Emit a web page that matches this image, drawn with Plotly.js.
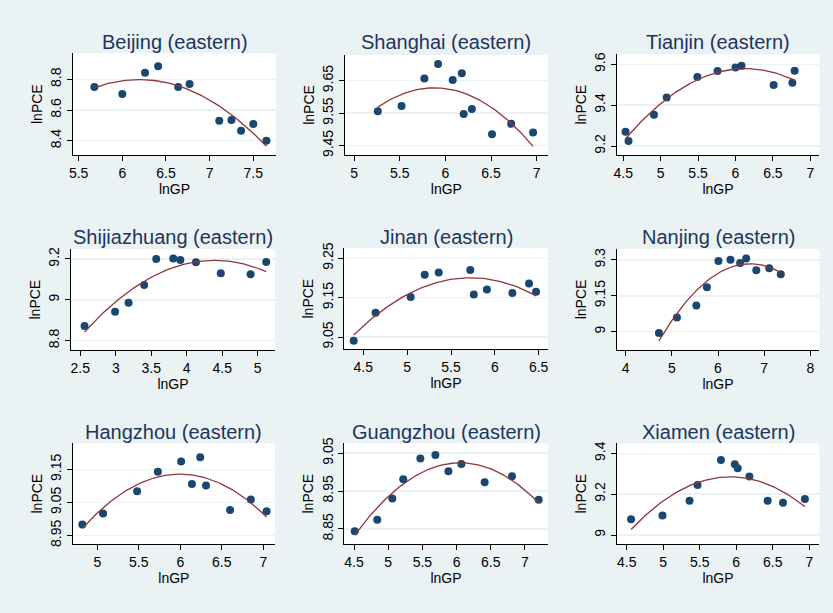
<!DOCTYPE html>
<html>
<head>
<meta charset="utf-8">
<script src="https://cdn.plot.ly/plotly-3.0.1.min.js"></script>
<style>
html,body{margin:0;padding:0;background:#eaf2f3;}
#chart{width:833px;height:613px;}
</style>
</head>
<body>
<div id="chart"></div>
<script>
// ---------- DATA ----------
const cities = ['Beijing (eastern)', 'Shanghai (eastern)', 'Tianjin (eastern)',
  'Shijiazhuang (eastern)', 'Jinan (eastern)', 'Nanjing (eastern)',
  'Hangzhou (eastern)', 'Guangzhou (eastern)', 'Xiamen (eastern)'];

const lnGP_Beijing  = [5.68, 6.00, 6.26, 6.41, 6.64, 6.77, 7.11, 7.25, 7.36, 7.50, 7.65];
const lnPCE_Beijing = [8.750, 8.704, 8.843, 8.885, 8.750, 8.770, 8.530, 8.535, 8.465, 8.509, 8.400];

const lnGP_Shanghai  = [5.26, 5.52, 5.77, 5.92, 6.08, 6.18, 6.20, 6.29, 6.51, 6.72, 6.96];
const lnPCE_Shanghai = [9.556, 9.572, 9.657, 9.701, 9.652, 9.673, 9.547, 9.563, 9.485, 9.517, 9.490];

const lnGP_Tianjin  = [4.53, 4.57, 4.91, 5.08, 5.49, 5.76, 6.00, 6.08, 6.51, 6.76, 6.79];
const lnPCE_Tianjin = [9.270, 9.224, 9.353, 9.438, 9.538, 9.567, 9.584, 9.593, 9.499, 9.510, 9.569];

const lnGP_Shijiazhuang  = [2.56, 2.99, 3.18, 3.40, 3.57, 3.81, 3.91, 4.13, 4.48, 4.90, 5.12];
const lnPCE_Shijiazhuang = [8.872, 8.942, 8.986, 9.073, 9.200, 9.202, 9.195, 9.184, 9.130, 9.125, 9.185];

const lnGP_Jinan  = [4.39, 4.64, 5.04, 5.20, 5.36, 5.72, 5.76, 5.91, 6.20, 6.39, 6.47];
const lnPCE_Jinan = [9.041, 9.112, 9.152, 9.208, 9.214, 9.220, 9.158, 9.171, 9.162, 9.186, 9.165];

const lnGP_Nanjing  = [4.72, 5.11, 5.53, 5.76, 6.01, 6.27, 6.48, 6.61, 6.83, 7.11, 7.36];
const lnPCE_Nanjing = [8.994, 9.059, 9.109, 9.186, 9.296, 9.301, 9.287, 9.306, 9.257, 9.265, 9.240];

const lnGP_Hangzhou  = [4.82, 5.07, 5.48, 5.73, 6.01, 6.14, 6.24, 6.31, 6.60, 6.85, 7.04];
const lnPCE_Hangzhou = [8.983, 9.016, 9.084, 9.143, 9.174, 9.106, 9.187, 9.101, 9.027, 9.059, 9.023];

const lnGP_Guangzhou  = [4.51, 4.84, 5.06, 5.22, 5.47, 5.69, 5.88, 6.07, 6.41, 6.81, 7.20];
const lnPCE_Guangzhou = [8.844, 8.874, 8.930, 8.981, 9.036, 9.045, 9.002, 9.021, 8.973, 8.989, 8.927];

const lnGP_Xiamen  = [4.56, 4.99, 5.36, 5.47, 5.79, 5.98, 6.02, 6.18, 6.43, 6.64, 6.94];
const lnPCE_Xiamen = [9.077, 9.096, 9.168, 9.245, 9.367, 9.346, 9.327, 9.286, 9.168, 9.158, 9.176];

const xTicks_Beijing = [5.5, 6, 6.5, 7, 7.5];           const yTicks_Beijing = [8.4, 8.6, 8.8];
const xTicks_Shanghai = [5, 5.5, 6, 6.5, 7];            const yTicks_Shanghai = [9.45, 9.55, 9.65];
const xTicks_Tianjin = [4.5, 5, 5.5, 6, 6.5, 7];        const yTicks_Tianjin = [9.2, 9.4, 9.6];
const xTicks_Shijiazhuang = [2.5, 3, 3.5, 4, 4.5, 5];   const yTicks_Shijiazhuang = [8.8, 9, 9.2];
const xTicks_Jinan = [4.5, 5, 5.5, 6, 6.5];             const yTicks_Jinan = [9.05, 9.15, 9.25];
const xTicks_Nanjing = [4, 5, 6, 7, 8];                 const yTicks_Nanjing = [9, 9.15, 9.3];
const xTicks_Hangzhou = [5, 5.5, 6, 6.5, 7];            const yTicks_Hangzhou = [8.95, 9.05, 9.15];
const xTicks_Guangzhou = [4.5, 5, 5.5, 6, 6.5, 7];      const yTicks_Guangzhou = [8.85, 8.95, 9.05];
const xTicks_Xiamen = [4.5, 5, 5.5, 6, 6.5, 7];         const yTicks_Xiamen = [9, 9.2, 9.4];

// ---------- PANEL LAYOUT (pixels / axis ranges) ----------
const W = 833, H = 613;
const panels = [
  {x: lnGP_Beijing, y: lnPCE_Beijing, xt: xTicks_Beijing, yt: yTicks_Beijing, px: [73, 276], py: [53.3, 155], xr: [5.435, 7.76], yr: [8.307, 8.97], ty: 41.7},
  {x: lnGP_Shanghai, y: lnPCE_Shanghai, xt: xTicks_Shanghai, yt: yTicks_Shanghai, px: [345, 547.7], py: [55, 155], xr: [4.901, 7.12], yr: [9.421, 9.729], ty: 41.7},
  {x: lnGP_Tianjin, y: lnPCE_Tianjin, xt: xTicks_Tianjin, yt: yTicks_Tianjin, px: [616.7, 819.3], py: [54.3, 155], xr: [4.412, 7.12], yr: [9.156, 9.649], ty: 41.7},
  {x: lnGP_Shijiazhuang, y: lnPCE_Shijiazhuang, xt: xTicks_Shijiazhuang, yt: yTicks_Shijiazhuang, px: [71, 275], py: [249.3, 350], xr: [2.369, 5.244], yr: [8.754, 9.2475], ty: 236.7},
  {x: lnGP_Jinan, y: lnPCE_Jinan, xt: xTicks_Jinan, yt: yTicks_Jinan, px: [344.3, 547.7], py: [248, 349.3], xr: [4.283, 6.603], yr: [9.019, 9.276], ty: 236.7},
  {x: lnGP_Nanjing, y: lnPCE_Nanjing, xt: xTicks_Nanjing, yt: yTicks_Nanjing, px: [616.7, 819.3], py: [249, 350], xr: [3.805, 8.195], yr: [8.923, 9.346], ty: 236.7},
  {x: lnGP_Hangzhou, y: lnPCE_Hangzhou, xt: xTicks_Hangzhou, yt: yTicks_Hangzhou, px: [72.7, 275], py: [443.3, 544], xr: [4.704, 7.141], yr: [8.924, 9.229], ty: 431.7},
  {x: lnGP_Guangzhou, y: lnPCE_Guangzhou, xt: xTicks_Guangzhou, yt: yTicks_Guangzhou, px: [344.3, 547.7], py: [443.3, 544], xr: [4.358, 7.332], yr: [8.810, 9.076], ty: 431.7},
  {x: lnGP_Xiamen, y: lnPCE_Xiamen, xt: xTicks_Xiamen, yt: yTicks_Xiamen, px: [616.7, 819.3], py: [443.3, 544], xr: [4.363, 7.137], yr: [8.956, 9.449], ty: 431.7}
];

// quadratic least-squares fit (like Stata qfit)
function qfit(xs, ys) {
  const n = xs.length;
  const m = xs.reduce((a, b) => a + b, 0) / n;
  let S = [0, 0, 0, 0, 0], T = [0, 0, 0];
  for (let i = 0; i < n; i++) {
    const u = xs[i] - m;
    for (let k = 0; k < 5; k++) S[k] += Math.pow(u, k);
    for (let k = 0; k < 3; k++) T[k] += ys[i] * Math.pow(u, k);
  }
  const A = [[S[0], S[1], S[2], T[0]], [S[1], S[2], S[3], T[1]], [S[2], S[3], S[4], T[2]]];
  for (let c = 0; c < 3; c++) {
    let p = c;
    for (let r = c + 1; r < 3; r++) if (Math.abs(A[r][c]) > Math.abs(A[p][c])) p = r;
    [A[c], A[p]] = [A[p], A[c]];
    for (let r = 0; r < 3; r++) {
      if (r === c) continue;
      const f = A[r][c] / A[c][c];
      for (let k = c; k < 4; k++) A[r][k] -= f * A[c][k];
    }
  }
  const b = [A[0][3] / A[0][0], A[1][3] / A[1][1], A[2][3] / A[2][2]];
  const lo = Math.min(...xs), hi = Math.max(...xs);
  const fx = [], fy = [];
  for (let i = 0; i <= 100; i++) {
    const x = lo + (hi - lo) * i / 100, u = x - m;
    fx.push(x); fy.push(b[0] + b[1] * u + b[2] * u * u);
  }
  return {fx, fy};
}

const FONT = 'Liberation Sans, Arial, sans-serif';
const BG = '#eaf2f3';
const traces = [];
const layout = {
  width: W, height: H,
  margin: {l: 0, r: 0, t: 0, b: 0},
  paper_bgcolor: BG,
  plot_bgcolor: '#ffffff',
  showlegend: false,
  font: {family: FONT, size: 14, color: '#000'},
  annotations: []
};

panels.forEach((p, i) => {
  const k = i + 1, xa = 'x' + (k === 1 ? '' : k), ya = 'y' + (k === 1 ? '' : k);
  const f = qfit(p.x, p.y);
  traces.push({type: 'scatter', mode: 'markers', x: p.x, y: p.y, xaxis: xa, yaxis: ya,
    marker: {color: '#1a476f', size: 8}, hoverinfo: 'skip'});
  traces.push({type: 'scatter', mode: 'lines', x: f.fx, y: f.fy, xaxis: xa, yaxis: ya,
    line: {color: '#90353b', width: 1.3}, hoverinfo: 'skip'});
  layout['xaxis' + (k === 1 ? '' : k)] = {
    domain: [p.px[0] / W, p.px[1] / W], anchor: ya, range: p.xr,
    tickvals: p.xt, ticks: 'outside', ticklen: 5, tickcolor: '#000', tickwidth: 1,
    showline: true, linecolor: '#000', linewidth: 1, showgrid: false, zeroline: false,
    tickfont: {size: 14, family: FONT, color: '#000'},
    title: {text: 'lnGP', font: {size: 14, family: FONT, color: '#000'}, standoff: 1}
  };
  layout['yaxis' + (k === 1 ? '' : k)] = {
    domain: [1 - p.py[1] / H, 1 - p.py[0] / H], anchor: xa, range: p.yr,
    tickvals: p.yt, ticks: 'outside', ticklen: 5, tickcolor: '#000', tickwidth: 1, tickangle: -90,
    showline: true, linecolor: '#000', linewidth: 1, showgrid: true, gridcolor: BG, gridwidth: 1.5,
    zeroline: false,
    tickfont: {size: 14, family: FONT, color: '#000'},
    title: {text: 'lnPCE', font: {size: 14, family: FONT, color: '#000'}, standoff: 2}
  };
  layout.annotations.push({
    text: cities[i], xref: 'paper', yref: 'paper',
    x: (p.px[0] + p.px[1]) / 2 / W, y: 1 - p.ty / H,
    xanchor: 'center', yanchor: 'middle', showarrow: false,
    font: {size: 20, family: FONT, color: '#1c3560'}
  });
});

Plotly.newPlot('chart', traces, layout, {staticPlot: true, displayModeBar: false});
</script>
</body>
</html>
